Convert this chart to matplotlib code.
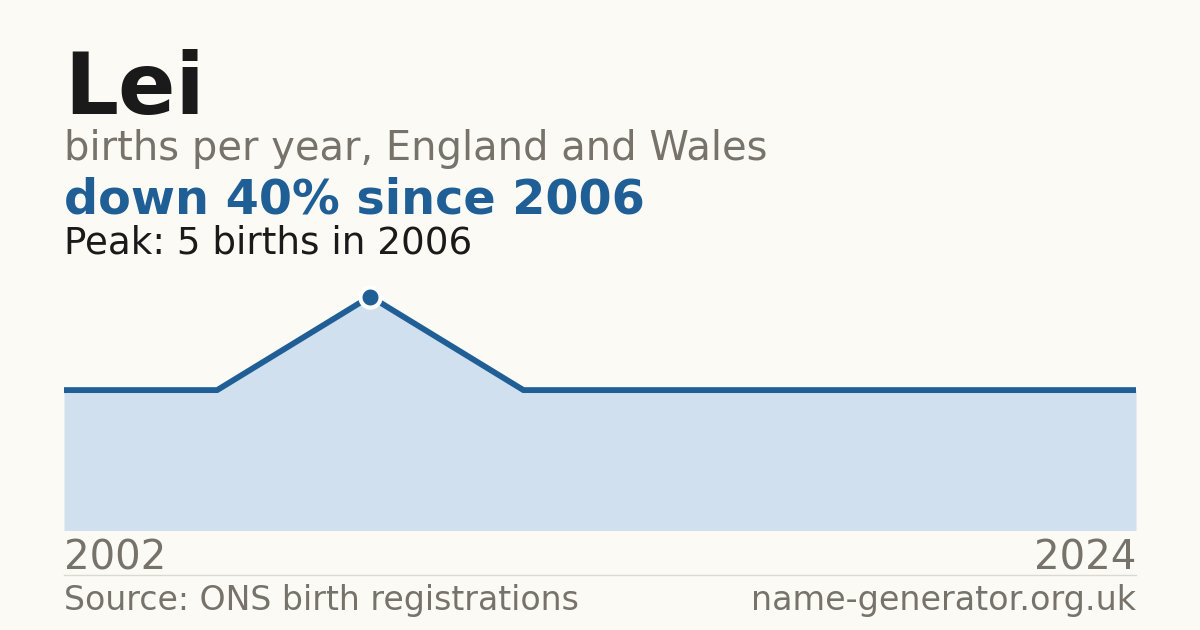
import matplotlib
matplotlib.use("Agg")
import matplotlib.pyplot as plt

plt.rcParams["font.family"] = ["DejaVu Sans"]

# births per year for the name (only years that appear in the ONS tables)
years = [2002, 2004, 2006, 2008, 2012, 2016, 2020, 2024]
births = [3, 3, 5, 3, 3, 3, 3, 3]

name = "Lei"
subtitle = "births per year, England and Wales"
headline = "down 40% since 2006"
peak_text = "Peak: 5 births in 2006"
source = "Source: ONS birth registrations"
site = "name-generator.org.uk"

BG = "#fbfaf5"
BLUE = "#1f5f96"
FILL = "#d0e0ef"
GREY = "#77736b"
INK = "#1a1a1a"

W, H = 1200, 630
fig = plt.figure(figsize=(W / 100, H / 100), dpi=100, facecolor=BG)


def px(x, y):
    # pixel position (from top-left) to figure fraction
    return x / W, 1 - y / H


# chart area: 64..1136 px wide, baseline at 530 px
top, bottom = 280, 530.5
ax = fig.add_axes([64 / W, 1 - bottom / H, (1136 - 64) / W, (bottom - top) / H])
ax.set_facecolor(BG)
xs = list(range(len(years)))
ax.fill_between(xs, births, 0, color=FILL, lw=0)
ax.plot(xs, births, color=BLUE, lw=4.2, solid_capstyle="butt", solid_joinstyle="miter")
pk = births.index(max(births))
ax.plot(xs[pk], births[pk], "o", color=BLUE, ms=14.5, mec="white", mew=3, zorder=5)
ax.set_xlim(0, len(years) - 1)
ax.set_ylim(0, (bottom - top) / 46.8)
ax.axis("off")

fig.text(*px(64, 114), name, fontsize=61, fontweight="bold", color=INK, va="baseline")
fig.text(*px(64, 160), subtitle, fontsize=28.8, color=GREY, va="baseline")
fig.text(*px(64, 214), headline, fontsize=34.4, fontweight="bold", color=BLUE, va="baseline")
fig.text(*px(64, 254), peak_text, fontsize=26.8, color=INK, va="baseline")

fig.text(*px(64, 570), str(years[0]), fontsize=29, color=GREY, va="baseline")
fig.text(*px(1136, 570), str(years[-1]), fontsize=29, color=GREY, va="baseline", ha="right")
fig.add_artist(plt.Line2D([64 / W, 1136 / W], [1 - 574.5 / H] * 2, color="#dcd9d2", lw=1))
fig.text(*px(64, 610), source, fontsize=23.9, color=GREY, va="baseline")
fig.text(*px(1136, 610), site, fontsize=24, color=GREY, va="baseline", ha="right")

fig.savefig("out.png", dpi=100, facecolor=BG)
